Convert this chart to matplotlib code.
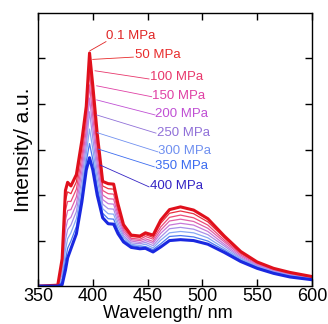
import matplotlib
matplotlib.use("Agg")
import matplotlib.pyplot as plt

plt.rcParams['font.family'] = ['Liberation Sans', 'DejaVu Sans']

wavelength = [350, 368, 372, 375, 377, 380, 385, 390, 394, 397, 400, 404, 409, 414, 419, 423,
              428, 435, 443, 448, 455, 462, 470, 480, 492, 505, 520, 535, 550, 565, 580, 600]

i_0p1 = [0, 0.02, 0.60, 2.10, 2.28, 2.20, 2.45, 3.20, 3.95, 5.12, 4.40, 3.35, 2.30, 2.25, 2.24, 1.80,
         1.35, 1.12, 1.10, 1.17, 1.12, 1.45, 1.68, 1.74, 1.67, 1.48, 1.10, 0.76, 0.53, 0.39, 0.30, 0.21]
i_50 = [0, 0.02, 0.53, 1.88, 2.07, 2.03, 2.29, 3.03, 3.78, 4.97, 4.17, 3.18, 2.20, 2.14, 2.13, 1.72,
        1.30, 1.09, 1.07, 1.13, 1.07, 1.38, 1.60, 1.65, 1.59, 1.41, 1.06, 0.73, 0.51, 0.38, 0.29, 0.20]
i_100 = [0, 0.02, 0.46, 1.66, 1.86, 1.86, 2.13, 2.86, 3.60, 4.72, 3.94, 3.01, 2.10, 2.03, 2.02, 1.64,
         1.26, 1.05, 1.03, 1.09, 1.03, 1.30, 1.51, 1.56, 1.50, 1.34, 1.01, 0.71, 0.50, 0.37, 0.28, 0.19]
i_150 = [0, 0.01, 0.39, 1.44, 1.66, 1.68, 1.96, 2.69, 3.43, 4.42, 3.71, 2.84, 2.00, 1.92, 1.91, 1.56,
         1.21, 1.02, 1.00, 1.04, 0.98, 1.23, 1.43, 1.47, 1.42, 1.27, 0.97, 0.68, 0.48, 0.35, 0.26, 0.18]
i_200 = [0, 0.01, 0.32, 1.23, 1.45, 1.51, 1.80, 2.53, 3.25, 4.13, 3.48, 2.68, 1.90, 1.81, 1.80, 1.48,
         1.16, 0.99, 0.96, 1.00, 0.94, 1.16, 1.34, 1.38, 1.34, 1.20, 0.92, 0.65, 0.46, 0.34, 0.25, 0.18]
i_250 = [0, 0.01, 0.25, 1.01, 1.24, 1.34, 1.64, 2.36, 3.08, 3.83, 3.24, 2.51, 1.80, 1.70, 1.69, 1.39,
         1.11, 0.95, 0.93, 0.96, 0.89, 1.08, 1.26, 1.29, 1.25, 1.13, 0.88, 0.62, 0.44, 0.32, 0.24, 0.17]
i_300 = [0, 0.01, 0.17, 0.79, 1.04, 1.17, 1.48, 2.19, 2.90, 3.45, 3.01, 2.34, 1.70, 1.59, 1.58, 1.31,
         1.07, 0.92, 0.89, 0.92, 0.84, 1.01, 1.17, 1.20, 1.17, 1.06, 0.83, 0.60, 0.43, 0.31, 0.23, 0.16]
i_350 = [0, 0.00, 0.10, 0.57, 0.83, 0.99, 1.31, 2.02, 2.73, 3.13, 2.78, 2.17, 1.60, 1.48, 1.47, 1.23,
         1.02, 0.89, 0.86, 0.87, 0.80, 0.93, 1.09, 1.11, 1.08, 0.99, 0.79, 0.57, 0.41, 0.29, 0.21, 0.15]
i_400 = [0, 0, 0.03, 0.35, 0.62, 0.82, 1.15, 1.85, 2.55, 2.82, 2.55, 2.00, 1.50, 1.37, 1.36, 1.15,
         0.97, 0.85, 0.82, 0.83, 0.75, 0.86, 1.00, 1.02, 1.00, 0.92, 0.74, 0.54, 0.39, 0.28, 0.20, 0.14]

labels = ["0.1 MPa", "50 MPa", "100 MPa", "150 MPa", "200 MPa",
          "250 MPa", "300 MPa", "350 MPa", "400 MPa"]
series = [i_0p1, i_50, i_100, i_150, i_200, i_250, i_300, i_350, i_400]

line_colors = ["#e0101c", "#e83040", "#ec4c78", "#e060a8", "#c878d8",
               "#a890e8", "#88a8f4", "#4a78f0", "#1a28e0"]
text_colors = ["#e02424", "#e82c2c", "#e8386c", "#e040a4", "#c050d4",
               "#9070d8", "#7090f0", "#3c6cf0", "#3424c4"]
widths = [2.2, 0.9, 0.9, 0.9, 0.9, 0.9, 0.9, 0.9, 2.2]

# leader-line start (on curve) and label anchor positions (layout)
lead_start = [(397.4, 5.17), (399.9, 4.98), (402.0, 4.73), (403.5, 4.40), (403.5, 4.09),
              (403.5, 3.76), (404.0, 3.37), (405.0, 3.01), (406.6, 2.66)]
lead_end = [(412.0, 5.37), (437.0, 5.03), (451.3, 4.55), (453.7, 4.16), (456.8, 3.76),
            (457.7, 3.36), (459.2, 2.95), (456.1, 2.62), (451.3, 2.18)]
text_pos = [(412.0, 5.49), (438.5, 5.08), (452.2, 4.59), (454.0, 4.18), (456.8, 3.78),
            (458.6, 3.36), (459.5, 2.97), (456.8, 2.64), (452.2, 2.20)]

fig = plt.figure(figsize=(3.28, 3.24), dpi=100)
ax = fig.add_axes([0.116, 0.117, 0.835, 0.843])

draw_order = [1, 2, 3, 4, 5, 6, 7, 0, 8]
for k in draw_order:
    ax.plot(wavelength, series[k], color=line_colors[k], lw=widths[k], solid_joinstyle='round')

for k in range(len(labels)):
    (x0, y0), (x1, y1) = lead_start[k], lead_end[k]
    ax.plot([x0, x1], [y0, y1], color=text_colors[k], lw=0.6)
    ax.text(text_pos[k][0], text_pos[k][1], labels[k], color=text_colors[k],
            fontsize=9.5, ha='left', va='center')

ax.set_xlim(350, 600)
ax.set_ylim(0, 6)
ax.set_xticks([350, 400, 450, 500, 550, 600])
ax.set_yticks([1, 2, 3, 4, 5])
ax.set_yticklabels([])
ax.tick_params(direction='in', length=5, width=1, top=True, right=True,
               labelsize=13, pad=1.5)
for s in ax.spines.values():
    s.set_linewidth(1.0)
ax.set_ylabel("Intensity/ a.u.", fontsize=15, labelpad=2)
fig.text(168 / 328, 5.5 / 324, "Wavelength/ nm", fontsize=13,
         ha='center', va='baseline')

fig.savefig("out.png", dpi=100)
